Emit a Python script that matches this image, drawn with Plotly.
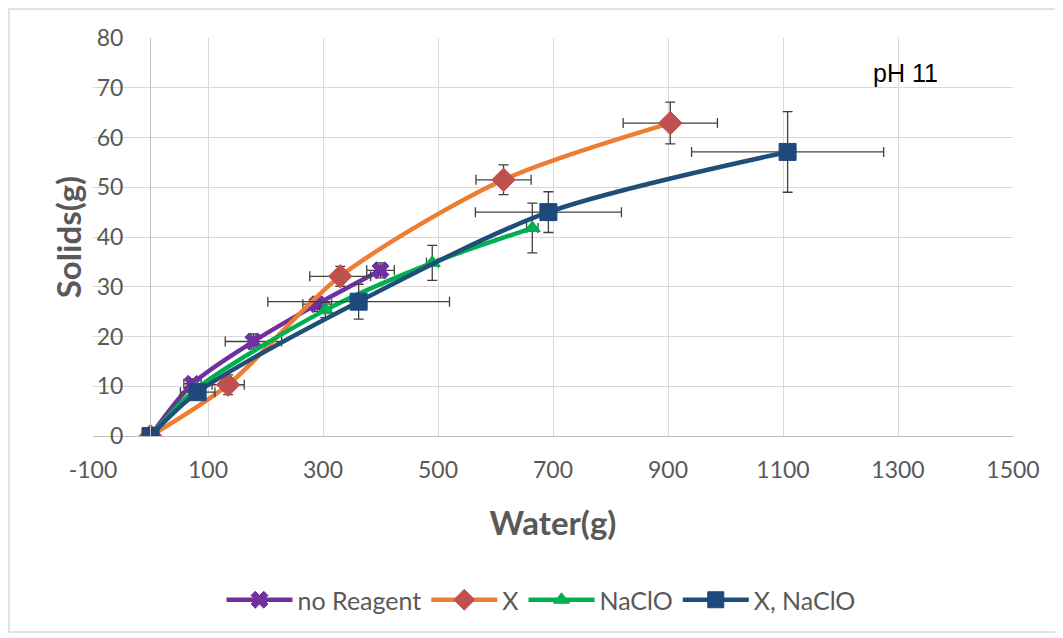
import plotly.graph_objects as go

# ---- data ----
noreagent_x = [0, 73, 179, 290, 400]
noreagent_y = [0, 10.5, 19.0, 26.5, 33.3]
noreagent_xerr = [0, 15, 49, 25, 24]
noreagent_yerr = [0, 1.0, 1.5, 1.5, 1.5]

x_x = [0, 135, 330, 614, 904]
x_y = [0, 10.3, 32.1, 51.5, 62.9]
x_xerr = [0, 28, 53, 48, 82]
x_yerr = [0, 2.0, 2.0, 3.0, 4.2]

naclo_x = [0, 80, 304, 490, 664]
naclo_y = [0, 9.5, 25.3, 34.8, 41.8]
naclo_xerr = [0, 10, 10, 10, 10]
naclo_yerr = [0, 1.0, 1.5, 3.5, 5.0]

xnaclo_x = [0, 82, 362, 692, 1108]
xnaclo_y = [0, 8.8, 27.0, 45.0, 57.1]
xnaclo_xerr = [0, 30, 158, 127, 167]
xnaclo_yerr = [0, 1.5, 3.5, 4.1, 8.1]

x_ticks = [-100, 100, 300, 500, 700, 900, 1100, 1300, 1500]
y_ticks = [0, 10, 20, 30, 40, 50, 60, 70, 80]

series = [
    ("no Reagent", noreagent_x, noreagent_y, noreagent_xerr, noreagent_yerr,
     "#7030A0", "#7030A0", "x", 15),
    ("X", x_x, x_y, x_xerr, x_yerr, "#ED7D31", "#C0504D", "diamond", 18),
    ("NaClO", naclo_x, naclo_y, naclo_xerr, naclo_yerr, "#00B050", "#00B050", "triangle-up", 14),
    ("X, NaClO", xnaclo_x, xnaclo_y, xnaclo_xerr, xnaclo_yerr, "#1F4E79", "#1F497D", "square", 17),
]

fig = go.Figure()
for name, xs, ys, xe, ye, lc, mc, sym, ms in series:
    fig.add_trace(go.Scatter(
        x=xs, y=ys, name=name, mode="lines+markers",
        line=dict(color=lc, width=4.5, shape="spline", smoothing=0.8),
        marker=dict(symbol=sym, size=ms, color=mc, line=dict(color=mc, width=1)),
        error_x=dict(type="data", array=xe, color="#404040", thickness=1.3, width=5),
        error_y=dict(type="data", array=ye, color="#404040", thickness=1.3, width=5),
    ))

# page body adds an 8px offset; compensate in the margins
OFF = 8
W, H = 1063, 638
ml, mt = 93 - OFF, 38 - OFF
plot_w, plot_h = 920, 398
mr = W - ml - plot_w
mb = H - mt - plot_h
y_axis_pos = (150 - 93) / plot_w


def px_x(p):
    return (p - 93) / plot_w


def px_y(p):
    return (436 - p) / plot_h


fig.update_layout(
    width=W, height=H,
    margin=dict(l=ml, r=mr, t=mt, b=mb, autoexpand=False),
    paper_bgcolor="white", plot_bgcolor="white",
    font=dict(family="Lato, sans-serif", color="#595959"),
    showlegend=True,
    legend=dict(orientation="h", x=px_x(541), xanchor="center", y=px_y(600), yanchor="middle",
                font=dict(size=25, color="#595959"), itemwidth=66, tracegroupgap=0,
                traceorder="normal"),
    xaxis=dict(range=[-100, 1500], tickvals=x_ticks, ticktext=[str(v) for v in x_ticks],
               showgrid=True, gridcolor="#D9D9D9", gridwidth=1,
               zeroline=False, showline=True, linecolor="#BFBFBF", linewidth=1,
               ticks="", ticklabelstandoff=13, tickfont=dict(size=23, color="#595959"),
               title=dict(text="<b>Water(g)</b>", font=dict(size=33, color="#595959"), standoff=30)),
    yaxis=dict(range=[0, 80], tickvals=y_ticks, anchor="free", position=y_axis_pos,
               showgrid=True, gridcolor="#D9D9D9", gridwidth=1,
               zeroline=False, showline=True, linecolor="#BFBFBF", linewidth=1,
               ticks="", ticklabelstandoff=22, tickfont=dict(size=23, color="#595959"),
               title=dict(text="<b>Solids(g)</b>", font=dict(size=33, color="#595959"), standoff=4)),
    annotations=[dict(text="pH 11", xref="paper", yref="paper",
                      x=px_x(905), y=px_y(73),
                      xanchor="center", yanchor="middle", showarrow=False,
                      font=dict(family="Liberation Sans, Arial", size=25, color="#000000"))],
    shapes=[dict(type="rect", xref="paper", yref="paper",
                 x0=px_x(9), x1=px_x(1058), y0=px_y(632), y1=px_y(9),
                 line=dict(color="#D9D9D9", width=1.5), layer="below")],
)

fig.write_html("out.html")
